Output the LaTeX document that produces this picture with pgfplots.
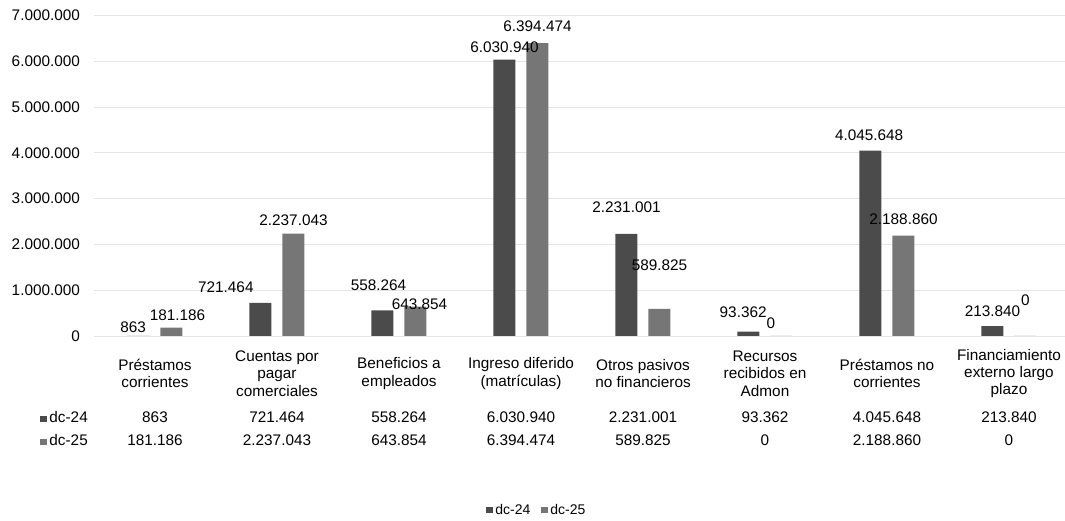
\documentclass[border=0pt]{standalone}
\usepackage{fontspec}
\setmainfont{Liberation Sans}
\usepackage{pgfplots}
\usepackage{pgfplotstable}
\pgfplotsset{compat=1.18}
\definecolor{dcA}{HTML}{4B4B4B}
\definecolor{dcB}{HTML}{767676}
\newcommand{\lf}{\fontsize{11.5}{13}\selectfont}
\pgfplotstableread{
x y dx dy
0 863 -4 -1
1 721464 -26 4
2 558264 -3 11
3 6030940 0 1.5
4 2231001 0 12
5 93362 -4 7
6 4045648 -1 4
7 213840 0 4
}\dataA
\pgfplotstableread{
x y dx dy
0 181186 4.5 2
1 2237043 0 2
2 643854 3 -6
3 6394474 0 5
4 589825 0 25
5 0 -8 2
6 2188860 0 4.5
7 0 0 19
}\dataB
\begin{document}
\begin{tikzpicture}
\path[use as bounding box] (0pt,0pt) rectangle (798.75pt,390.75pt);
\begin{axis}[
  at={(70.5pt,138.75pt)}, anchor=south west,
  scale only axis, width=732pt, height=240.5pt,
  xmin=-0.5, xmax=7.5, ymin=0, ymax=7000000,
  ybar=8.25pt, bar width=16.5pt,
  axis line style={draw=none}, tick style={draw=none},
  ytick={0,1000000,2000000,3000000,4000000,5000000,6000000,7000000},
  ymajorgrids, grid style={black!10, line width=0.6pt},
  xtick={0,1,2,3,4,5,6,7},
  xticklabels={{Préstamos\\corrientes},{Cuentas por\\pagar\\comerciales},{Beneficios a\\empleados},{Ingreso diferido\\(matrículas)},{Otros pasivos\\no financieros},{Recursos\\recibidos en\\Admon},{Préstamos no\\corrientes},{Financiamiento\\externo largo\\plazo}},
  xticklabel style={align=center, anchor=center, yshift=-24pt, font=\lf},
  yticklabel style={font=\lf, xshift=-7pt},
  scaled y ticks=false,
  clip=false,
  legend style={draw=none, fill=none, at={(0.454,-0.543)}, anchor=center, font=\fontsize{10.5}{12}\selectfont, /tikz/every even column/.append style={column sep=6pt}},
  legend columns=2,
  legend image code/.code={\fill[#1] (0pt,-2.5pt) rectangle (5pt,2.5pt);},
  /pgf/number format/fixed,
  /pgf/number format/precision=0,
  /pgf/number format/1000 sep={.},
  /pgf/number format/assume math mode=true,
]
\addplot[fill=dcA, draw=none, visualization depends on={\thisrow{dx} \as \dx}, visualization depends on={\thisrow{dy} \as \dy}, nodes near coords, every node near coord/.append style={font=\lf, text=black, xshift=\dx pt, yshift=\dy pt}] table[x=x,y=y] {\dataA};
\addplot[fill=dcB, draw=none, visualization depends on={\thisrow{dx} \as \dx}, visualization depends on={\thisrow{dy} \as \dy}, nodes near coords, every node near coord/.append style={font=\lf, text=black, xshift=\dx pt, yshift=\dy pt}] table[x=x,y=y] {\dataB};
\legend{dc-24, dc-25}
\tikzset{rowA/.style={font=\lf, yshift=-60.75pt}, rowB/.style={font=\lf, yshift=-78pt}}
\node[rowA, xshift=-22.5pt] at (axis cs:-0.5,0) {{\color{dcA}\rule{5pt}{5pt}}\,dc-24};
\node[rowB, xshift=-22.5pt] at (axis cs:-0.5,0) {{\color{dcB}\rule{5pt}{5pt}}\,dc-25};
\node[rowA] at (axis cs:0,0) {863};
\node[rowA] at (axis cs:1,0) {721.464};
\node[rowA] at (axis cs:2,0) {558.264};
\node[rowA] at (axis cs:3,0) {6.030.940};
\node[rowA] at (axis cs:4,0) {2.231.001};
\node[rowA] at (axis cs:5,0) {93.362};
\node[rowA] at (axis cs:6,0) {4.045.648};
\node[rowA] at (axis cs:7,0) {213.840};
\node[rowB] at (axis cs:0,0) {181.186};
\node[rowB] at (axis cs:1,0) {2.237.043};
\node[rowB] at (axis cs:2,0) {643.854};
\node[rowB] at (axis cs:3,0) {6.394.474};
\node[rowB] at (axis cs:4,0) {589.825};
\node[rowB] at (axis cs:5,0) {0};
\node[rowB] at (axis cs:6,0) {2.188.860};
\node[rowB] at (axis cs:7,0) {0};
\end{axis}
\end{tikzpicture}
\end{document}
